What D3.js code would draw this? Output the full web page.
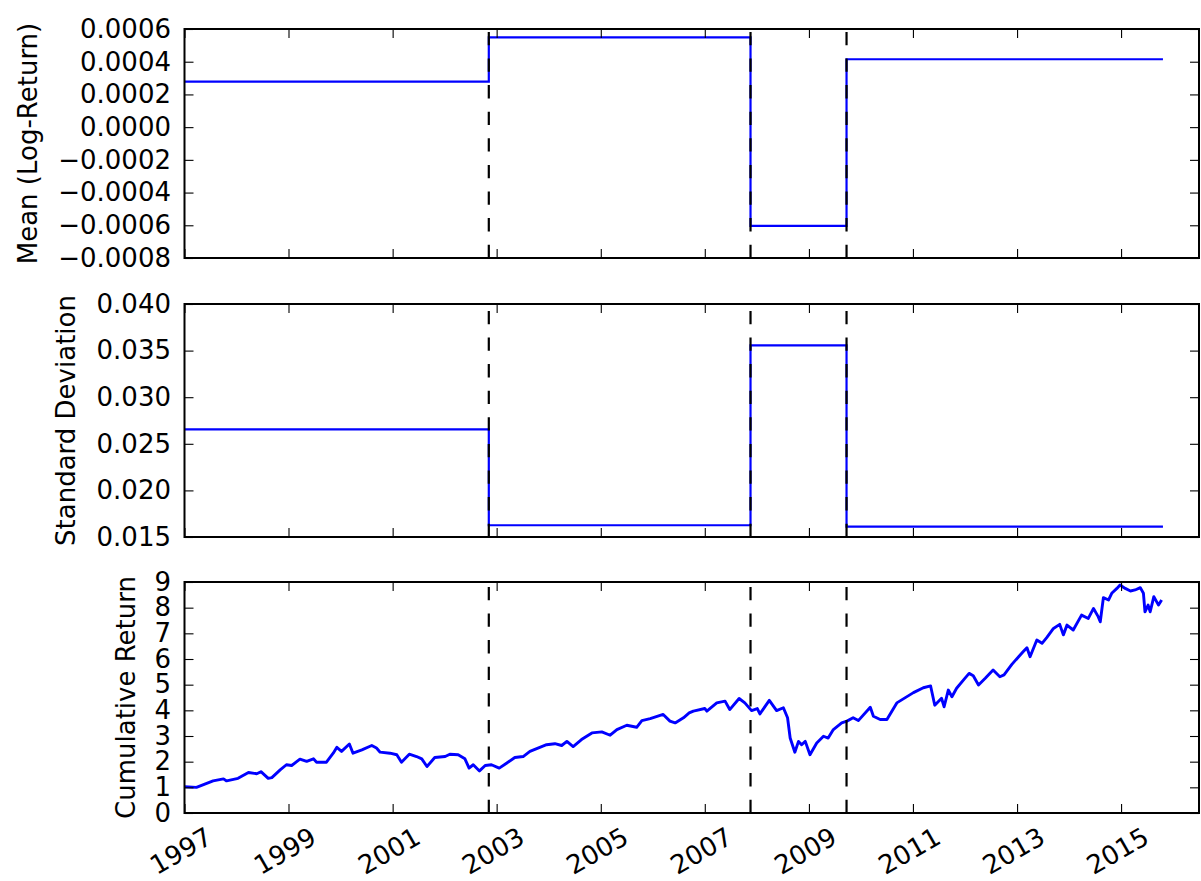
<!DOCTYPE html>
<html><head><meta charset="utf-8">
<script src="https://cdn.jsdelivr.net/npm/d3@7"></script>
<style>
body{margin:0;background:#fff}
svg{display:block}
text{font-family:"DejaVu Sans",sans-serif;fill:#000}
</style>
</head><body>
<svg id="c" width="1201" height="881"></svg>
<script>
// ---------- data ----------
const xTickYears = [1997, 1999, 2001, 2003, 2005, 2007, 2009, 2011, 2013, 2015];
const changePoints = ["2002-11-07", "2007-11-18", "2009-09-22"];
const regimeStarts = ["1997-01-01", "2002-11-07", "2007-11-18", "2009-09-22"];
const seriesEnd = "2015-10-22";
const regimeMeans = [0.000278, 0.000549, -0.000603, 0.000415];
const regimeStds = [0.02655, 0.01626, 0.03555, 0.01612];
const meanTicks = [-0.0008, -0.0006, -0.0004, -0.0002, 0.0000, 0.0002, 0.0004, 0.0006];
const stdTicks = [0.015, 0.020, 0.025, 0.030, 0.035, 0.040];
const cumTicks = [0, 1, 2, 3, 4, 5, 6, 7, 8, 9];
const cumYears = [
 1997.00,1997.23,1997.55,1997.75,1997.81,1998.03,1998.23,1998.39,1998.47,1998.61,
 1998.68,1998.84,1998.96,1999.06,1999.22,1999.35,1999.48,1999.54,1999.73,1999.86,
 1999.93,2000.02,2000.17,2000.24,2000.41,2000.60,2000.69,2000.76,2000.95,2001.08,
 2001.17,2001.32,2001.46,2001.56,2001.66,2001.81,2002.01,2002.10,2002.26,2002.39,
 2002.47,2002.55,2002.67,2002.78,2002.90,2003.05,2003.19,2003.35,2003.51,2003.64,
 2003.83,2003.96,2004.12,2004.25,2004.35,2004.47,2004.63,2004.83,2005.02,2005.18,
 2005.31,2005.50,2005.69,2005.79,2005.95,2006.20,2006.33,2006.43,2006.59,2006.70,
 2006.78,2007.00,2007.04,2007.23,2007.39,2007.48,2007.66,2007.77,2007.90,2008.01,
 2008.06,2008.24,2008.38,2008.51,2008.59,2008.64,2008.73,2008.80,2008.86,2008.93,
 2009.02,2009.15,2009.28,2009.37,2009.47,2009.63,2009.73,2009.85,2009.95,2010.18,
 2010.24,2010.37,2010.50,2010.69,2011.01,2011.20,2011.34,2011.42,2011.55,2011.60,
 2011.68,2011.75,2011.84,2011.97,2012.08,2012.16,2012.26,2012.39,2012.54,2012.67,
 2012.75,2012.90,2013.03,2013.12,2013.19,2013.25,2013.38,2013.48,2013.57,2013.70,
 2013.82,2013.89,2013.96,2014.08,2014.24,2014.37,2014.47,2014.56,2014.60,2014.66,
 2014.76,2014.82,2014.92,2014.98,2015.08,2015.18,2015.27,2015.37,2015.43,2015.46,
 2015.52,2015.56,2015.63,2015.72,2015.78
];
const cumValues = [
 1.02,1.00,1.25,1.33,1.25,1.35,1.58,1.53,1.61,1.35,
 1.38,1.68,1.88,1.85,2.10,2.01,2.11,1.98,1.98,2.33,
 2.56,2.40,2.69,2.33,2.46,2.63,2.53,2.37,2.33,2.27,
 1.98,2.29,2.20,2.11,1.81,2.16,2.20,2.29,2.27,2.11,
 1.75,1.88,1.64,1.85,1.88,1.75,1.94,2.16,2.20,2.40,
 2.56,2.66,2.70,2.63,2.79,2.59,2.86,3.12,3.16,3.03,
 3.25,3.42,3.34,3.60,3.68,3.84,3.58,3.51,3.71,3.90,
 3.97,4.07,3.97,4.29,4.36,4.03,4.46,4.29,3.99,4.07,
 3.86,4.39,3.99,4.10,3.71,2.92,2.37,2.79,2.66,2.79,
 2.27,2.73,2.99,2.92,3.25,3.51,3.58,3.71,3.60,4.12,
 3.77,3.64,3.64,4.29,4.69,4.88,4.95,4.20,4.47,4.14,
 4.79,4.53,4.86,5.18,5.44,5.35,4.99,5.25,5.57,5.31,
 5.38,5.79,6.09,6.29,6.44,6.09,6.74,6.61,6.83,7.19,
 7.35,6.94,7.32,7.13,7.71,7.58,7.97,7.65,7.45,8.39,
 8.30,8.56,8.75,8.88,8.75,8.65,8.69,8.78,8.56,7.84,
 8.10,7.84,8.43,8.10,8.30
];

// ---------- helpers ----------
const parseD = d3.utcParse("%Y-%m-%d");
function fromYear(y) {
  const yr = Math.floor(y);
  const a = Date.UTC(yr, 0, 1), b = Date.UTC(yr + 1, 0, 1);
  return new Date(a + (y - yr) * (b - a));
}

const svg = d3.select("#c");
const L = 184.5, R = 1199;
const FS = 26;
const x = d3.scaleUtc()
  .domain([Date.UTC(1997, 0, 1), Date.UTC(2016, 6, 1)])
  .range([L, R]);
const xTicks = xTickYears.map(y => new Date(Date.UTC(y, 0, 1)));

const minus = s => s.replace("-", "\u2212");
const panels = [
  {top: 29, bottom: 258, domain: [-0.0008, 0.0006], ticks: meanTicks,
   fmt: v => minus(d3.format(".4f")(v)), label: "Mean (Log-Return)", labelX: 28,
   data: regimeMeans, step: true},
  {top: 304, bottom: 537, domain: [0.015, 0.040], ticks: stdTicks,
   fmt: d3.format(".3f"), label: "Standard Deviation", labelX: 66,
   data: regimeStds, step: true},
  {top: 582, bottom: 813, domain: [0, 9], ticks: cumTicks,
   fmt: d3.format("d"), label: "Cumulative Return", labelX: 126,
   step: false, last: true}
];

const TL = 9;
panels.forEach(p => {
  const y = d3.scaleLinear().domain(p.domain).range([p.bottom, p.top]);
  const g = svg.append("g");

  // data line
  if (p.step) {
    const pts = regimeStarts.map((d, i) => ({d: parseD(d), v: p.data[i]}));
    pts.push({d: parseD(seriesEnd), v: p.data[p.data.length - 1]});
    g.append("path").datum(pts)
      .attr("fill", "none").attr("stroke", "#0000ff").attr("stroke-width", 2.2)
      .attr("d", d3.line().x(d => x(d.d)).y(d => y(d.v)).curve(d3.curveStepAfter));
  } else {
    const pts = cumYears.map((yr, i) => ({d: fromYear(yr), v: cumValues[i]}));
    g.append("path").datum(pts)
      .attr("fill", "none").attr("stroke", "#0000ff").attr("stroke-width", 2.9)
      .attr("stroke-linejoin", "round")
      .attr("d", d3.line().x(d => x(d.d)).y(d => y(d.v)));
  }

  // change point dashed lines
  changePoints.forEach(cp => {
    const cx = x(parseD(cp));
    g.append("line")
      .attr("x1", cx).attr("x2", cx).attr("y1", p.bottom).attr("y2", p.top)
      .attr("stroke", "#000").attr("stroke-width", 2.2)
      .attr("stroke-dasharray", "13.3,13.3");
  });

  // axes
  const axL = g.append("g").attr("transform", `translate(${L},0)`)
    .call(d3.axisLeft(y).tickValues(p.ticks).tickFormat(p.fmt)
      .tickSizeInner(-TL).tickSizeOuter(0).tickPadding(13.5));
  const axR = g.append("g").attr("transform", `translate(${R},0)`)
    .call(d3.axisRight(y).tickValues(p.ticks).tickFormat("")
      .tickSizeInner(-TL).tickSizeOuter(0));
  const axT = g.append("g").attr("transform", `translate(0,${p.top})`)
    .call(d3.axisTop(x).tickValues(xTicks).tickFormat("")
      .tickSizeInner(-TL).tickSizeOuter(0));
  const axB = g.append("g").attr("transform", `translate(0,${p.bottom})`)
    .call(d3.axisBottom(x).tickValues(xTicks)
      .tickFormat(p.last ? d3.utcFormat("%Y") : "")
      .tickSizeInner(-TL).tickSizeOuter(0));
  [axL, axR, axT, axB].forEach(a => {
    a.select(".domain").remove();
    a.selectAll(".tick line").attr("stroke", "#000").attr("stroke-width", 1.1);
    a.attr("font-size", FS).attr("font-family", "DejaVu Sans");
  });
  axL.selectAll(".tick text").attr("fill", "#000");
  if (p.last) {
    axB.selectAll(".tick text")
      .attr("y", null).attr("dy", null).attr("fill", "#000")
      .attr("text-anchor", "middle").attr("dominant-baseline", "central")
      .attr("transform", "translate(-4,38) rotate(-30)");
  }

  // spines
  g.append("rect")
    .attr("x", L).attr("y", p.top).attr("width", R - L).attr("height", p.bottom - p.top)
    .attr("fill", "none").attr("stroke", "#000").attr("stroke-width", 2);

  // y label
  g.append("text")
    .attr("transform", `translate(${p.labelX},${(p.top + p.bottom) / 2}) rotate(-90)`)
    .attr("text-anchor", "middle").attr("dominant-baseline", "central")
    .attr("font-size", FS).text(p.label);
});
</script>
</body></html>
